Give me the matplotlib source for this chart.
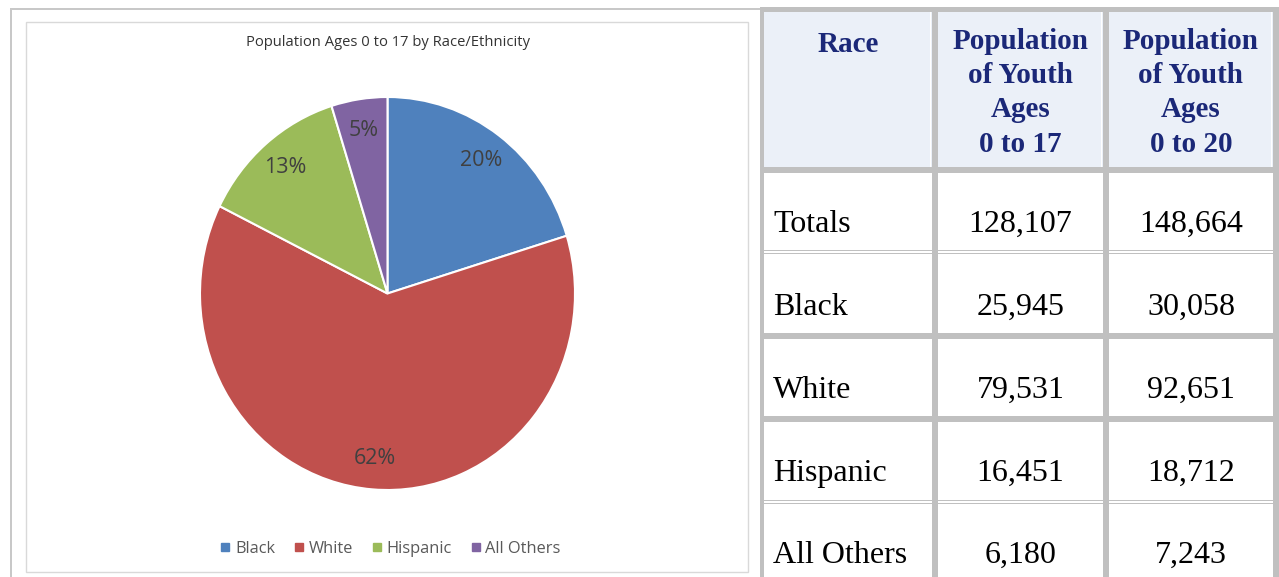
import matplotlib
matplotlib.use('Agg')
import matplotlib.pyplot as plt
from matplotlib.patches import Rectangle
from matplotlib.lines import Line2D

# ---------------- data ----------------
races = ['Black', 'White', 'Hispanic', 'All Others']
pop_0_17 = [25945, 79531, 16451, 6180]
pop_0_20 = [30058, 92651, 18712, 7243]
total_0_17 = 128107
total_0_20 = 148664
colors = ['#4F81BD', '#C0504D', '#9BBB59', '#8064A2']
chart_title = 'Population Ages 0 to 17 by Race/Ethnicity'
header_race = 'Race'
header_cols = [['Population', 'of Youth', 'Ages', '0 to 17'],
               ['Population', 'of Youth', 'Ages', '0 to 20']]
row_labels = ['Totals'] + races
vals17 = [total_0_17] + pop_0_17
vals20 = [total_0_20] + pop_0_20

# ---------------- figure ----------------
W, H = 1279, 577
plt.rcParams['font.family'] = ['Open Sans', 'DejaVu Sans']
fig = plt.figure(figsize=(W / 100, H / 100), dpi=100)
bg = fig.add_axes([0, 0, 1, 1])
bg.set_xlim(0, W)
bg.set_ylim(H, 0)
bg.axis('off')

GRID = '#c0c0c0'
# left panel outer border
bg.add_patch(Rectangle((10, 8), 752, 2, color='#c8c8c8', lw=0))
bg.add_patch(Rectangle((10, 8), 2, 600, color='#c8c8c8', lw=0))
# chart frame
bg.add_patch(Rectangle((26, 22), 722, 550, fill=False, ec='#d9d9d9', lw=1))

# table grid
bg.add_patch(Rectangle((760, 7), W - 760, H, color=GRID, lw=0))
cols = [(764, 932), (938, 1103), (1109, 1273)]
rows = [(12, 167), (173, 249.5), (254, 333), (339, 416), (422, 499.5), (504, 600)]
for ri, (y0, y1) in enumerate(rows):
    for (x0, x1) in cols:
        fc = '#EBF0F8' if ri == 0 else 'white'
        bg.add_patch(Rectangle((x0, y0), x1 - x0, y1 - y0, color=fc, lw=0))
    if ri == 0:
        for (x0, x1) in cols:
            bg.add_patch(Rectangle((x1 - 2, y0), 1.2, y1 - y0, color='white', lw=0))
# thin double rules
for yy in (251, 501):
    for (x0, x1) in cols:
        bg.add_patch(Rectangle((x0, yy), x1 - x0, 1.6, color='white', lw=0))

NAVY = '#1b2878'
SERIF = ['Liberation Serif', 'DejaVu Serif']
bg.text((cols[0][0] + cols[0][1]) / 2, 52, header_race, ha='center', va='baseline',
        fontsize=21, fontweight='bold', color=NAVY, family=SERIF)
for ci, lines in enumerate(header_cols):
    xc = (cols[ci + 1][0] + cols[ci + 1][1]) / 2
    for li, line in enumerate(lines):
        bg.text(xc, 49 + li * 34.2, line, ha='center', va='baseline',
                fontsize=21, fontweight='bold', color=NAVY, family=SERIF)

baselines = [232, 315, 398, 481, 563]
for lab, v17, v20, yb in zip(row_labels, vals17, vals20, baselines):
    bg.text(773, yb, lab, ha='left', va='baseline', fontsize=23, color='black', family=SERIF)
    bg.text((cols[1][0] + cols[1][1]) / 2, yb, f'{v17:,}', ha='center', va='baseline',
            fontsize=23, color='black', family=SERIF)
    bg.text((cols[2][0] + cols[2][1]) / 2, yb, f'{v20:,}', ha='center', va='baseline',
            fontsize=23, color='black', family=SERIF)

# chart title
bg.text(387.5, 43, chart_title, ha='center', va='center', fontsize=10.6, color='#333333')

# pie
ax = fig.add_axes([200 / W, 1 - 490 / H, 375 / W, 393 / H])
wedges, texts, autotexts = ax.pie(
    pop_0_17, colors=colors, startangle=90, counterclock=False,
    autopct='%1.0f%%', pctdistance=0.84,
    wedgeprops=dict(edgecolor='white', linewidth=1.5),
    textprops=dict(fontsize=15.5, color='#404040'))
for w in wedges:
    w.set_clip_on(False)
ax.set_aspect('auto')
ax.set_xlim(-1, 1)
ax.set_ylim(-1, 1)
ax.axis('off')

handles = [Line2D([], [], marker='s', ls='none', color=c, markersize=5.5) for c in colors]
fig.legend(handles, races, loc='center', bbox_to_anchor=(391 / W, 1 - 549 / H), ncol=4,
           frameon=False, fontsize=11.8, handlelength=0.5, handletextpad=0.35,
           columnspacing=1.2, labelcolor='#595959')

fig.savefig('out.png', dpi=100)
